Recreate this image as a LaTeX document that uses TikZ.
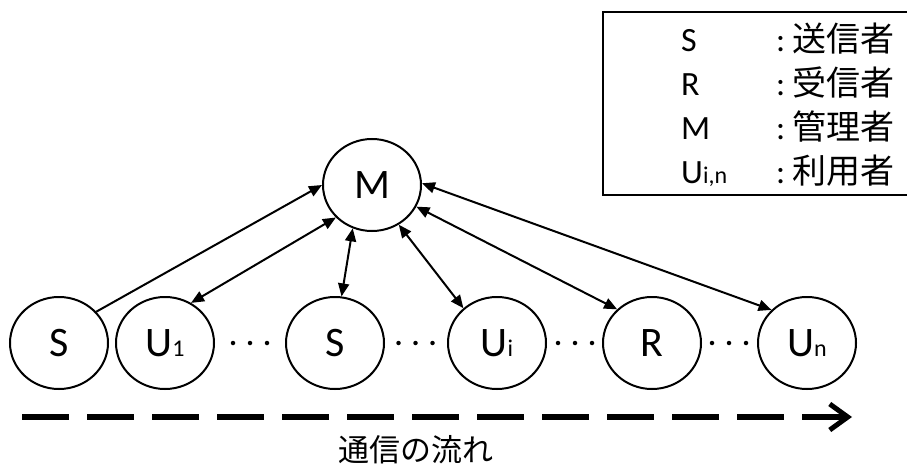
\documentclass[tikz,border=0pt]{standalone}
\usepackage{fontspec}
\setmainfont{Carlito}
\newfontfamily\cjk{Noto Sans CJK JP}
\usetikzlibrary{arrows.meta,shapes.geometric}
\tikzset{
  ent/.style={ellipse,draw,line width=2pt,minimum width=98pt,minimum height=92pt,inner sep=0pt,
    font=\fontsize{42}{42}\selectfont},
  link/.style={line width=2pt,{Triangle[length=13pt,width=11pt]}-{Triangle[length=13pt,width=11pt]}},
  uni/.style={line width=2pt,-{Triangle[length=13pt,width=11pt]}},
  lab/.style={anchor=base west,inner sep=0pt,font=\fontsize{34}{34}\selectfont},
  desc/.style={anchor=base west,inner sep=0pt,font=\fontsize{34}{34}\selectfont},
  dotc/.style={fill=black,draw=none,circle,inner sep=0pt,minimum size=4.5pt},
}
\newcommand{\sm}[1]{{\fontsize{24}{24}\selectfont #1}}
\begin{document}
\begin{tikzpicture}[x=1pt,y=-1pt]
\useasboundingbox (0,0) rectangle (907,465);
\begin{scope}
\clip (0,0) rectangle (907,465);
\draw[line width=2.5pt] (603,12) rectangle (915,195);
\end{scope}
% legend
\node[lab] (lS) at (681,52) {S};
\node[lab] (lR) at (681,96) {R};
\node[lab] (lM) at (681,140) {M};
\node[lab] (lU) at (681,184) {U\sm{i,n}};
\node[desc] (dS) at (776,52) {:\hspace{7pt}{\cjk 送信者}};
\node[desc] (dR) at (776,96) {:\hspace{7pt}{\cjk 受信者}};
\node[desc] (dM) at (776,140) {:\hspace{7pt}{\cjk 管理者}};
\node[desc] (dU) at (776,184) {:\hspace{7pt}{\cjk 利用者}};
% nodes
\node[ent] (M) at (372,185) {M};
\node[ent] (S1) at (59,343) {S};
\node[ent] (U1) at (165,343) {U\sm{1}};
\node[ent] (S2) at (335,343) {S};
\node[ent] (Ui) at (497,343) {U\sm{i}};
\node[ent] (R) at (652,343) {R};
\node[ent] (Un) at (807,343) {U\sm{n}};
% dots
\foreach \cx in {250,415.5,575,729}{
  \foreach \d in {-17,0,17}{
    \node[dotc] at (\cx+\d,343) {};
  }
}
% connectors
\draw[uni] (S1.40) -- (M.180);
\draw[link] (U1.57) -- (M.222);
\draw[link] (S2.82) -- (M.246);
\draw[link] (Ui.134) -- (M.304);
\draw[link] (R.136) -- (M.334);
\draw[link] (Un.137) -- (M.2);
% flow
\coordinate (fa) at (22,417);
\coordinate (fb) at (852,417);
\draw[line width=6pt,dash pattern=on 47pt off 18pt,-{Straight Barb[length=18pt,width=26pt,line width=5pt]}] (fa) -- (fb);
\node[font=\cjk\fontsize{31}{31}\selectfont] (flow) at (416,450) {通信の流れ};
\end{tikzpicture}
\end{document}
